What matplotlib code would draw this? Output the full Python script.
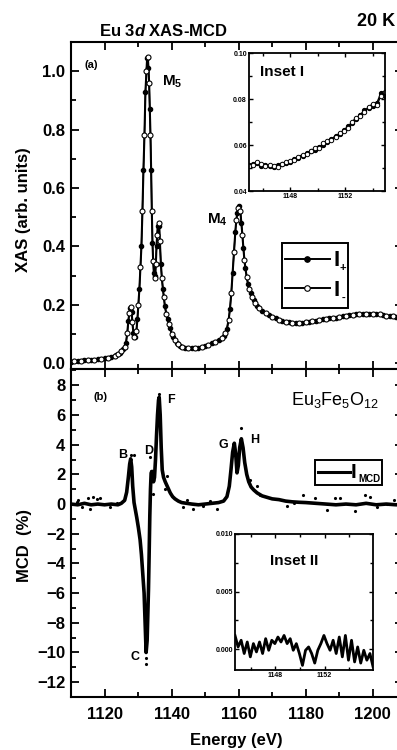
import matplotlib
matplotlib.use("Agg")
import matplotlib.pyplot as plt
from matplotlib.lines import Line2D
from matplotlib.patches import Rectangle
from matplotlib.ticker import MultipleLocator, FormatStrFormatter

# ---------------------------------------------------------------------------
# Data
# ---------------------------------------------------------------------------

# (a) XAS, Eu 3d edge
xas_e = [1110.0, 1111.0, 1112.0, 1113.0, 1114.0, 1115.0, 1116.0, 1117.0, 1118.0, 1119.0,
         1120.0, 1121.0, 1122.0, 1123.0, 1123.5, 1124.0, 1124.5, 1125.0, 1125.5, 1126.0,
         1126.4, 1126.8, 1127.1, 1127.4, 1127.7, 1127.9, 1128.1, 1128.3, 1128.6, 1128.9,
         1129.2, 1129.5, 1129.8, 1130.1, 1130.4, 1130.7, 1131.0, 1131.3, 1131.6, 1131.9,
         1132.2, 1132.5, 1132.7, 1132.9, 1133.1, 1133.3, 1133.5, 1133.7, 1133.9, 1134.1,
         1134.3, 1134.5, 1134.7, 1134.9, 1135.1, 1135.3, 1135.5, 1135.7, 1135.9, 1136.1,
         1136.3, 1136.5, 1136.8, 1137.1, 1137.4, 1137.7, 1138.0, 1138.4, 1138.8, 1139.2,
         1139.6, 1140.0, 1140.5, 1141.0, 1141.5, 1142.0, 1142.5, 1143.0, 1144.0, 1145.0,
         1146.0, 1147.0, 1148.0, 1149.0, 1150.0, 1151.0, 1152.0, 1153.0, 1154.0, 1155.0,
         1155.5, 1156.0, 1156.5, 1157.0, 1157.4, 1157.8, 1158.2, 1158.6, 1159.0, 1159.3,
         1159.6, 1159.9, 1160.2, 1160.5, 1160.8, 1161.1, 1161.4, 1161.7, 1162.0, 1162.4,
         1162.8, 1163.2, 1163.6, 1164.0, 1164.5, 1165.0, 1165.5, 1166.0, 1167.0, 1168.0,
         1169.0, 1170.0, 1171.0, 1172.0, 1173.0, 1174.0, 1175.0, 1176.0, 1177.0, 1178.0,
         1179.0, 1180.0, 1181.0, 1182.0, 1183.0, 1184.0, 1185.0, 1186.0, 1187.0, 1188.0,
         1189.0, 1190.0, 1191.0, 1192.0, 1193.0, 1194.0, 1195.0, 1196.0, 1197.0, 1198.0,
         1199.0, 1200.0, 1201.0, 1202.0, 1203.0, 1204.0, 1205.0, 1206.0, 1207.0, 1208.0,
         1209.0]
xas = [0.004, 0.006, 0.007, 0.009, 0.010, 0.011, 0.012, 0.012, 0.013, 0.015,
       0.017, 0.019, 0.021, 0.025, 0.028, 0.031, 0.035, 0.040, 0.047, 0.055,
       0.070, 0.105, 0.145, 0.172, 0.188, 0.192, 0.175, 0.140, 0.105, 0.088,
       0.090, 0.110, 0.150, 0.200, 0.255, 0.330, 0.400, 0.520, 0.660, 0.780,
       0.930, 1.000, 1.045, 1.050, 1.010, 0.960, 0.870, 0.780, 0.660, 0.520,
       0.410, 0.350, 0.310, 0.290, 0.300, 0.340, 0.400, 0.440, 0.470, 0.480,
       0.470, 0.420, 0.340, 0.290, 0.255, 0.225, 0.195, 0.170, 0.150, 0.135,
       0.120, 0.100, 0.088, 0.078, 0.070, 0.064, 0.060, 0.057, 0.053, 0.051,
       0.051, 0.051, 0.053, 0.056, 0.059, 0.063, 0.068, 0.074, 0.079, 0.086,
       0.092, 0.102, 0.118, 0.148, 0.185, 0.240, 0.310, 0.380, 0.450, 0.490,
       0.515, 0.530, 0.540, 0.520, 0.480, 0.440, 0.395, 0.355, 0.325, 0.295,
       0.270, 0.255, 0.240, 0.228, 0.215, 0.205, 0.196, 0.189, 0.180, 0.172,
       0.165, 0.158, 0.153, 0.149, 0.145, 0.142, 0.140, 0.138, 0.137, 0.137,
       0.138, 0.140, 0.142, 0.144, 0.146, 0.148, 0.150, 0.151, 0.153, 0.155,
       0.156, 0.158, 0.160, 0.162, 0.164, 0.166, 0.167, 0.169, 0.170, 0.170,
       0.170, 0.169, 0.168, 0.167, 0.165, 0.163, 0.162, 0.160, 0.159, 0.158,
       0.157]

# (b) MCD, smoothed trace
mcd_e = [1110.0, 1112.0, 1114.0, 1116.0, 1118.0, 1120.0, 1122.0, 1124.0, 1125.0, 1126.0,
         1126.6, 1127.1, 1127.5, 1127.8, 1128.1, 1128.4, 1128.8, 1129.2, 1129.6, 1130.1,
         1130.6, 1131.0, 1131.4, 1131.8, 1132.1, 1132.4, 1132.7, 1132.9, 1133.1, 1133.3,
         1133.5, 1133.7, 1133.9, 1134.2, 1134.6, 1134.9, 1135.2, 1135.5, 1135.8, 1136.1,
         1136.3, 1136.6, 1136.9, 1137.2, 1137.6, 1138.1, 1138.6, 1139.1, 1139.6, 1140.3,
         1141.0, 1142.0, 1143.0, 1144.5, 1146.0, 1148.0, 1150.0, 1152.0, 1154.0, 1155.5,
         1156.5, 1157.2, 1157.7, 1158.2, 1158.7, 1159.1, 1159.5, 1159.9, 1160.3, 1160.8,
         1161.3, 1161.8, 1162.4, 1163.0, 1163.7, 1164.5, 1165.5, 1167.0, 1168.5, 1170.0,
         1172.0, 1174.0, 1176.0, 1178.0, 1180.0, 1183.0, 1186.0, 1189.0, 1192.0, 1195.0,
         1198.0, 1201.0, 1204.0, 1207.0, 1209.0]
mcd = [0.00, -0.05, 0.05, -0.05, 0.00, -0.05, 0.00, -0.05, 0.05, 0.25,
       0.8, 1.8, 2.7, 3.05, 2.5, 1.2, 0.1, -0.4, -0.9, -1.6,
       -2.4, -3.4, -4.7, -6.0, -8.0, -10.0, -9.2, -7.5, -5.8, -3.4,
       -0.8, 1.0, 2.1, 2.2, 1.5, 1.8, 3.0, 4.6, 6.0, 7.0,
       7.2, 6.0, 3.8, 2.3, 1.8, 1.5, 1.25, 1.0, 0.75, 0.5,
       0.35, 0.2, 0.1, 0.05, 0.0, -0.05, 0.0, 0.05, 0.1, 0.2,
       0.5, 1.2, 2.3, 3.5, 4.1, 3.4, 2.1, 2.6, 3.8, 4.4,
       3.8, 2.8, 2.0, 1.5, 1.15, 0.95, 0.75, 0.55, 0.45, 0.35,
       0.3, 0.2, 0.15, 0.12, 0.1, 0.05, 0.0, -0.05, 0.0, -0.05,
       0.05, -0.05, 0.0, -0.05, 0.0]

# (b) MCD, scattered raw points
dots_e = [1111.7, 1112.2, 1113.2, 1115.2, 1115.7, 1116.7, 1117.7, 1118.7, 1121.6, 1123.6,
          1124.6, 1127.9, 1128.8, 1132.4, 1132.4, 1133.6, 1133.9, 1134.6, 1136.1, 1138.1,
          1138.6, 1143.5, 1144.5, 1146.4, 1149.5, 1151.5, 1153.5, 1160.7, 1163.4, 1165.4,
          1166.4, 1174.4, 1176.4, 1179.3, 1182.8, 1186.3, 1188.8, 1190.3, 1194.8, 1197.8,
          1199.3, 1201.3, 1204.2, 1206.2]
dots_v = [0.15, 0.3, -0.2, 0.4, -0.3, 0.45, 0.35, 0.4, -0.2, 0.1,
          0.05, 3.3, 3.3, -10.4, -10.8, 3.2, 2.2, 0.7, 7.4, 1.0,
          1.9, -0.2, 0.25, -0.3, -0.1, 0.2, -0.3, 5.1, 1.6, 1.2,
          0.6, -0.1, 0.1, 0.6, 0.4, -0.4, 0.4, 0.4, -0.5, 0.6,
          0.5, -0.2, 0.0, 0.3]

# Inset I: XAS pre-edge of M4
in1_e = [1145.0, 1145.3, 1145.6, 1145.9, 1146.2, 1146.5, 1146.8, 1147.1, 1147.4, 1147.7,
         1148.0, 1148.3, 1148.6, 1148.9, 1149.2, 1149.5, 1149.8, 1150.1, 1150.4, 1150.7,
         1151.0, 1151.3, 1151.6, 1151.9, 1152.2, 1152.5, 1152.8, 1153.1, 1153.4, 1153.7,
         1154.0, 1154.3, 1154.6, 1154.9]
in1_plus = [0.0512, 0.0518, 0.0522, 0.0509, 0.0515, 0.0507, 0.0504, 0.0512, 0.0516, 0.0521,
            0.0528, 0.0539, 0.0545, 0.0552, 0.0566, 0.0572, 0.0580, 0.0592, 0.0601, 0.0614,
            0.0626, 0.0640, 0.0648, 0.0665, 0.0681, 0.0696, 0.0712, 0.0731, 0.0752, 0.0760,
            0.0771, 0.0782, 0.0826, 0.0815]
in1_minus = [0.0508, 0.0514, 0.0526, 0.0516, 0.0509, 0.0511, 0.0510, 0.0506, 0.0519, 0.0527,
             0.0531, 0.0534, 0.0549, 0.0558, 0.0561, 0.0575, 0.0586, 0.0588, 0.0607, 0.0619,
             0.0621, 0.0635, 0.0653, 0.0662, 0.0676, 0.0701, 0.0718, 0.0726, 0.0745, 0.0766,
             0.0778, 0.0774, 0.0812, 0.0830]

# Inset II: MCD in the same window
in2_e = [1144.70, 1144.95, 1145.20, 1145.45, 1145.70, 1145.95, 1146.20, 1146.45, 1146.70, 1146.95,
         1147.20, 1147.45, 1147.70, 1147.95, 1148.20, 1148.45, 1148.70, 1148.95, 1149.20, 1149.45,
         1149.70, 1149.95, 1150.20, 1150.45, 1150.70, 1150.95, 1151.20, 1151.45, 1151.70, 1151.95,
         1152.20, 1152.45, 1152.70, 1152.95, 1153.20, 1153.45, 1153.70, 1153.95, 1154.20, 1154.45,
         1154.70, 1154.95, 1155.20, 1155.45, 1155.70, 1155.95]
in2_v = [0.00120, 0.00020, 0.00078, -0.00037, 0.00063, -0.00066, 0.00049, -0.00023, 0.00063, -0.00037,
         0.00092, -0.00009, 0.00078, 0.00049, 0.00106, 0.00063, 0.00120, 0.00049, 0.00092, -0.00009,
         0.00049, -0.00037, -0.00140, -0.00009, 0.00020, -0.00037, -0.00120, -0.00009, 0.00049, 0.00120,
         0.00049, -0.00009, 0.00078, -0.00037, 0.00106, -0.00066, 0.00120, -0.00095, 0.00078, -0.00110,
         0.00020, -0.00120, -0.00009, -0.00095, -0.00037, -0.00150]

# ---------------------------------------------------------------------------
# Style
# ---------------------------------------------------------------------------

plt.rcParams["font.family"] = ["Liberation Sans", "DejaVu Sans"]
plt.rcParams["font.weight"] = "bold"
plt.rcParams["mathtext.fontset"] = "custom"
plt.rcParams["mathtext.rm"] = "Liberation Sans:bold"
plt.rcParams["mathtext.it"] = "Liberation Sans:italic:bold"
plt.rcParams["axes.linewidth"] = 1.5

W, H = 397, 750


def px(x, y):
    # pixel position in the 397x750 picture -> figure fraction
    return x / W, 1 - y / H


def box(x0, y0, x1, y1):
    return [x0 / W, 1 - y1 / H, (x1 - x0) / W, (y1 - y0) / H]


def style_ticks(ax, size, major, minor, width=1.3, pad=4):
    ax.tick_params(which="both", direction="in", top=True, right=True,
                   width=width, labelsize=size, pad=pad)
    ax.tick_params(which="major", length=major)
    ax.tick_params(which="minor", length=minor)


fig = plt.figure(figsize=(W / 100, H / 100), dpi=100)

# ---------------------------------------------------------------------------
# (a) XAS
# ---------------------------------------------------------------------------

ax1 = fig.add_axes(box(71, 42, 403, 369))
ax1.plot(xas_e, xas, "-", color="k", lw=1.5, marker="o", ms=3, mfc="k", mec="k",
         markevery=(0, 2))
ax1.plot(xas_e, xas, "-", color="k", lw=1.0, marker="o", ms=3.6, mfc="white",
         mec="k", mew=0.8, markevery=(1, 2))
ax1.set_xlim(1110, 1209)
ax1.set_ylim(-0.02, 1.10)
ax1.xaxis.set_major_locator(MultipleLocator(20))
ax1.xaxis.set_minor_locator(MultipleLocator(10))
ax1.yaxis.set_major_locator(MultipleLocator(0.2))
ax1.yaxis.set_minor_locator(MultipleLocator(0.1))
ax1.yaxis.set_major_formatter(FormatStrFormatter("%.1f"))
ax1.tick_params(labelbottom=False)
style_ticks(ax1, 12, 6, 3.5)

ax1.text(1116, 1.02, "(a)", fontsize=8, ha="center", va="center")
ax1.text(1140.1, 0.965, r"$\mathregular{M_5}$", fontsize=11, ha="center", va="center")
ax1.text(1153.6, 0.49, r"$\mathregular{M_4}$", fontsize=11, ha="center", va="center")

# ---------------------------------------------------------------------------
# (b) MCD
# ---------------------------------------------------------------------------

ax2 = fig.add_axes(box(71, 369, 403, 697))
ax2.plot(mcd_e, mcd, "-", color="k", lw=2.6)
ax2.plot(dots_e, dots_v, ".", color="k", ms=2.5, ls="none")
ax2.set_xlim(1110, 1209)
ax2.set_ylim(-13, 9.1)
ax2.xaxis.set_major_locator(MultipleLocator(20))
ax2.xaxis.set_minor_locator(MultipleLocator(10))
ax2.yaxis.set_major_locator(MultipleLocator(2))
ax2.yaxis.set_minor_locator(MultipleLocator(1))
style_ticks(ax2, 12, 6, 3.5)
ax2.tick_params(axis="x", pad=7)

ax2.text(1118.7, 7.2, "(b)", fontsize=8, ha="center", va="center")
for lab, e, v in [("B", 1125.5, 3.3), ("C", 1129.1, -10.3), ("D", 1133.3, 3.6),
                  ("F", 1139.9, 7.0), ("G", 1155.4, 4.0), ("H", 1164.9, 4.3)]:
    ax2.text(e, v, lab, fontsize=9, ha="center", va="center")
ax2.text(1188.8, 7.0, r"$\mathregular{Eu_3Fe_5O_{12}}$", fontsize=13,
         fontweight="normal", ha="center", va="center")

# ---------------------------------------------------------------------------
# Inset I
# ---------------------------------------------------------------------------

ax3 = fig.add_axes(box(249, 53, 385, 191))
ax3.plot(in1_e, in1_plus, "-", color="k", lw=1.0, marker="o", ms=2.8, mfc="k", mec="k")
ax3.plot(in1_e, in1_minus, "-", color="k", lw=1.0, marker="o", ms=3.2, mfc="white",
         mec="k", mew=0.7)
ax3.set_xlim(1145, 1154.9)
ax3.set_ylim(0.04, 0.10)
ax3.xaxis.set_major_locator(MultipleLocator(4))
ax3.xaxis.set_minor_locator(MultipleLocator(2))
ax3.yaxis.set_major_locator(MultipleLocator(0.02))
ax3.yaxis.set_minor_locator(MultipleLocator(0.01))
ax3.yaxis.set_major_formatter(FormatStrFormatter("%.2f"))
style_ticks(ax3, 5, 3, 2, width=1.0, pad=1.5)
for s in ax3.spines.values():
    s.set_linewidth(1.3)
ax3.text(0.08, 0.86, "Inset I", transform=ax3.transAxes, fontsize=11, ha="left",
         va="center")

# ---------------------------------------------------------------------------
# Inset II
# ---------------------------------------------------------------------------

ax4 = fig.add_axes(box(235, 534, 373, 670))
ax4.plot(in2_e, in2_v, "-", color="k", lw=2.0)
ax4.set_xlim(1144.7, 1155.95)
ax4.set_ylim(-0.0018, 0.0100)
ax4.xaxis.set_major_locator(MultipleLocator(4))
ax4.xaxis.set_minor_locator(MultipleLocator(2))
ax4.yaxis.set_major_locator(MultipleLocator(0.005))
ax4.yaxis.set_minor_locator(MultipleLocator(0.0025))
ax4.yaxis.set_major_formatter(FormatStrFormatter("%.3f"))
style_ticks(ax4, 5, 3, 2, width=1.0, pad=1.5)
for s in ax4.spines.values():
    s.set_linewidth(1.3)
ax4.text(0.25, 0.8, "Inset II", transform=ax4.transAxes, fontsize=11, ha="left",
         va="center")

# ---------------------------------------------------------------------------
# Legends (drawn by hand to get the small subscripts)
# ---------------------------------------------------------------------------

fig.add_artist(Rectangle(px(282, 308), 66 / W, 65 / H, transform=fig.transFigure,
                         fc="white", ec="k", lw=1.4, zorder=5))
for yy, face in [(259, "k"), (288, "white")]:
    x0, y0 = px(285, yy)
    x1, _ = px(330, yy)
    fig.add_artist(Line2D([x0, x1], [y0, y0], transform=fig.transFigure, color="k",
                          lw=1.4, zorder=6))
    xm, _ = px(307, yy)
    fig.add_artist(Line2D([xm], [y0], transform=fig.transFigure, color="k", ls="none",
                          marker="o", ms=4, mfc=face, mec="k", mew=0.8, zorder=7))
fig.text(*px(337, 261), "I", fontsize=16, ha="center", va="center", zorder=8)
fig.text(*px(343, 268), "+", fontsize=8, ha="center", va="center", zorder=8)
fig.text(*px(337, 290), "I", fontsize=16, ha="center", va="center", zorder=8)
fig.text(*px(343, 298), "-", fontsize=8, ha="center", va="center", zorder=8)

fig.add_artist(Rectangle(px(315, 485), 67 / W, 25 / H, transform=fig.transFigure,
                         fc="white", ec="k", lw=1.4, zorder=5))
x0, y0 = px(318, 472)
x1, _ = px(350, 472)
fig.add_artist(Line2D([x0, x1], [y0, y0], transform=fig.transFigure, color="k",
                      lw=2.2, zorder=6))
fig.text(*px(354, 472), "I", fontsize=15, ha="center", va="center", zorder=8)
fig.text(*px(369, 479), "MCD", fontsize=7, ha="center", va="center", zorder=8)

# ---------------------------------------------------------------------------
# Titles and axis labels
# ---------------------------------------------------------------------------

fig.text(*px(163, 31), r"Eu 3$\mathit{d}$ XAS-MCD", fontsize=12, ha="center", va="center")
fig.text(*px(376, 21), "20 K", fontsize=13, ha="center", va="center")
fig.text(*px(24, 210), "XAS (arb. units)", fontsize=12, rotation=90, ha="center",
         va="center")
fig.text(*px(25, 545), "MCD  (%)", fontsize=12, rotation=90, ha="center", va="center")
fig.text(*px(236, 741), "Energy (eV)", fontsize=12, ha="center", va="center")

fig.savefig("out.png", dpi=100)
